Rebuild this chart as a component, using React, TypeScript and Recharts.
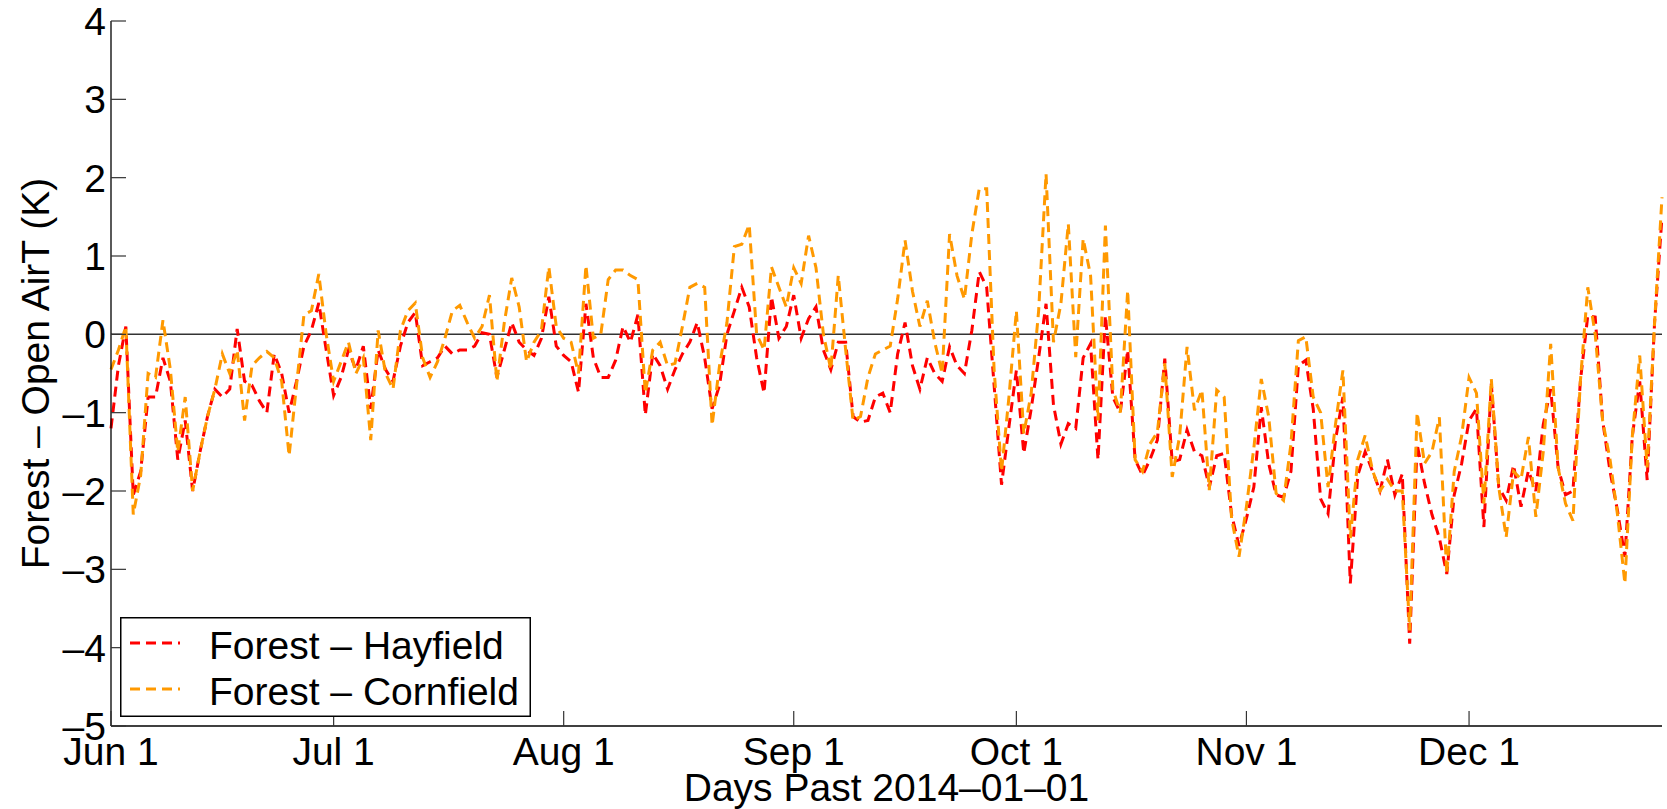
import { LineChart, Line, XAxis, YAxis, ReferenceLine, Legend } from "recharts";

const FONT = "'Liberation Sans', Arial, Helvetica, sans-serif";
const FS = 39;
const TICK_LEN = 15;

// day 151 = Jun 1 (days past 2014-01-01), one value per day
const startDay = 151;

const hayfield = [
  -1.2, -0.4, 0.1, -2.05, -1.75, -0.8, -0.8, -0.3, -0.6, -1.6,
  -1.1, -2.0, -1.5, -1.05, -0.7, -0.8, -0.7, 0.07, -0.6, -0.65,
  -0.85, -1.0, -0.25, -0.5, -1.0, -0.6, -0.15, 0.05, 0.4, -0.2,
  -0.78, -0.55, -0.2, -0.45, -0.15, -0.95, -0.2, -0.45, -0.6, -0.15,
  0.15, 0.28, -0.4, -0.35, -0.3, -0.15, -0.25, -0.2, -0.2, -0.15,
  0.02, 0.0, -0.55, -0.2, 0.15, -0.1, -0.2, -0.27, -0.05, 0.48,
  -0.15, -0.27, -0.35, -0.74, 0.39, -0.3, -0.55, -0.55, -0.33, 0.1,
  -0.1, 0.25, -1.03, -0.25, -0.4, -0.7, -0.45, -0.25, -0.1, 0.15,
  -0.3, -0.95, -0.65, 0.0, 0.3, 0.6, 0.35, -0.3, -0.75, 0.48,
  -0.05, 0.1, 0.5, -0.05, 0.2, 0.35, -0.2, -0.45, -0.1, -0.1,
  -1.05, -1.12, -1.1, -0.8, -0.75, -1.0, -0.25, 0.15, -0.4, -0.7,
  -0.3, -0.5, -0.6, -0.16, -0.4, -0.5, 0.05, 0.8, 0.6, -0.65,
  -1.92, -1.18, -0.46, -1.52, -0.95, -0.3, 0.39, -0.9, -1.4, -1.14,
  -1.2, -0.3, -0.12, -1.6, 0.24, -0.8, -1.0, -0.2, -1.6, -1.8,
  -1.6, -1.35, -0.31, -1.63, -1.6, -1.22, -1.5, -1.55, -1.95, -1.55,
  -1.52, -2.3, -2.7, -2.35, -1.95, -0.93, -1.65, -2.05, -2.08, -1.75,
  -0.4, -0.33, -0.95, -2.1, -2.29, -1.35, -0.8, -3.18, -1.8, -1.5,
  -1.75, -2.0, -1.6, -2.05, -1.78, -3.95, -1.4, -1.9, -2.3, -2.6,
  -3.06, -2.05, -1.65, -1.1, -0.95, -2.46, -0.63, -1.95, -2.12, -1.67,
  -2.2, -1.74, -2.0, -1.15, -0.7, -1.7, -2.05, -2.0, -0.6, 0.24,
  0.22, -1.1, -1.75, -2.25, -2.84, -1.3, -0.6, -1.86, 0.15, 1.5,
];

const cornfield = [
  -0.45, -0.2, 0.1, -2.3, -1.8, -0.5, -0.55, 0.18, -0.45, -1.5,
  -0.8, -2.0, -1.5, -1.05, -0.7, -0.25, -0.5, -0.2, -1.1, -0.4,
  -0.3, -0.22, -0.3, -0.6, -1.55, -0.65, 0.25, 0.3, 0.77, 0.0,
  -0.6, -0.35, -0.1, -0.5, -0.3, -1.35, 0.05, -0.5, -0.7, 0.05,
  0.3, 0.4, -0.3, -0.55, -0.35, -0.05, 0.3, 0.37, 0.15, -0.05,
  0.1, 0.5, -0.6, 0.15, 0.72, 0.35, -0.35, -0.1, 0.05, 0.86,
  0.1, -0.05, -0.1, -0.5, 0.88, -0.05, 0.0, 0.7, 0.82, 0.82,
  0.75, 0.7, -0.75, -0.2, -0.1, -0.4, -0.37, 0.1, 0.6, 0.65,
  0.6, -1.16, -0.4, 0.15, 1.12, 1.15, 1.4, 0.0, -0.2, 0.86,
  0.6, 0.35, 0.85, 0.65, 1.26, 0.85, 0.0, -0.45, 0.75, -0.2,
  -1.1, -1.05, -0.55, -0.25, -0.2, -0.15, 0.45, 1.2, 0.55, 0.1,
  0.43, -0.1, -0.5, 1.28, 0.75, 0.45, 1.28, 1.86, 1.86, -0.45,
  -1.75, -0.8, 0.3, -1.27, -0.75, 0.3, 2.05, -0.1, 0.39, 1.41,
  -0.29, 1.22, 0.75, -1.1, 1.39, -0.7, -1.0, 0.56, -1.6, -1.75,
  -1.4, -1.25, -0.37, -1.82, -1.3, -0.16, -0.97, -0.71, -1.99, -0.71,
  -0.8, -2.35, -2.84, -2.2, -1.45, -0.57, -1.05, -2.03, -2.12, -1.4,
  -0.08, -0.03, -0.8, -1.0, -1.95, -1.15, -0.46, -2.6, -1.6, -1.29,
  -1.74, -2.0, -1.85, -2.0, -2.0, -3.78, -1.0, -1.65, -1.5, -1.06,
  -3.06, -1.75, -1.3, -0.55, -0.75, -2.16, -0.57, -1.95, -2.59, -1.75,
  -1.85, -1.31, -2.33, -1.5, -0.12, -1.7, -2.16, -2.38, -0.6, 0.6,
  0.0, -1.1, -1.6, -2.3, -3.18, -1.3, -0.27, -1.7, 0.15, 1.75,
];

const seriesNames = ["Forest – Hayfield", "Forest – Cornfield"];
const xTicks = [151, 181, 212, 243, 273, 304, 334];
const xTickLabels = ["Jun 1", "Jul 1", "Aug 1", "Sep 1", "Oct 1", "Nov 1", "Dec 1"];
const yTicks = [-5, -4, -3, -2, -1, 0, 1, 2, 3, 4];

const data = hayfield.map((h, i) => ({
  day: startDay + i,
  hayfield: h,
  cornfield: cornfield[i],
}));

const fmtY = (v: number) => (v < 0 ? `\u2013${Math.abs(v)}` : `${v}`);

function BottomTick({ x, y, payload }: any) {
  const idx = xTicks.indexOf(payload.value);
  return (
    <g>
      <line x1={x} x2={x} y1={y} y2={y - TICK_LEN} stroke="#333" strokeWidth={1.2} />
      <text x={x} y={y + 39} textAnchor="middle" fontSize={FS} fontFamily={FONT} fill="#000">
        {xTickLabels[idx]}
      </text>
    </g>
  );
}

function TopTick({ x, y }: any) {
  return <line x1={x} x2={x} y1={y} y2={y + TICK_LEN} stroke="#333" strokeWidth={1.2} />;
}

function LeftTick({ x, y, payload }: any) {
  return (
    <g>
      <line x1={x} x2={x + TICK_LEN} y1={y} y2={y} stroke="#333" strokeWidth={1.2} />
      <text x={x - 5} y={y} dy="0.36em" textAnchor="end" fontSize={FS} fontFamily={FONT} fill="#000">
        {fmtY(payload.value)}
      </text>
    </g>
  );
}

function RightTick({ x, y }: any) {
  return <line x1={x} x2={x - TICK_LEN} y1={y} y2={y} stroke="#333" strokeWidth={1.2} />;
}

function YTitle({ viewBox }: any) {
  const cx = 35;
  const cy = viewBox.y + viewBox.height / 2;
  return (
    <text
      x={cx}
      y={cy}
      transform={`rotate(-90 ${cx} ${cy})`}
      textAnchor="middle"
      dominantBaseline="central"
      fontSize={FS}
      fontFamily={FONT}
      fill="#000"
    >
      Forest – Open AirT (K)
    </text>
  );
}

function XTitle({ viewBox }: any) {
  return (
    <text
      x={viewBox.x + viewBox.width / 2}
      y={viewBox.y + 75}
      textAnchor="middle"
      fontSize={FS}
      fontFamily={FONT}
      fill="#000"
    >
      Days Past 2014–01–01
    </text>
  );
}

function PanelTitle({ viewBox }: any) {
  return (
    <text x={viewBox.x + 46} y={viewBox.y + 69} fontSize={FS} fontFamily={FONT} fill="#000">
      (b) PTCLM
    </text>
  );
}

function LegendBox({ payload }: any) {
  const items = [...(payload || [])].sort(
    (a: any, b: any) => seriesNames.indexOf(a.value) - seriesNames.indexOf(b.value)
  );
  return (
    <svg width={411} height={100} style={{ display: "block" }}>
      <rect x={0.75} y={0.75} width={409.5} height={98.5} fill="#fff" stroke="#000" strokeWidth={1.5} />
      {items.map((p: any, i: number) => (
        <g key={p.value}>
          <line
            x1={10}
            x2={60}
            y1={26 + i * 46}
            y2={26 + i * 46}
            stroke={p.color}
            strokeWidth={3}
            strokeDasharray="10 6"
          />
          <text x={89} y={42 + i * 46} fontSize={FS} fontFamily={FONT} fill="#000">
            {p.value}
          </text>
        </g>
      ))}
    </svg>
  );
}

const axisStyle = { stroke: "#000", strokeWidth: 1.3 };

export default function App() {
  return (
    <div style={{ position: "absolute", left: 0, top: 0, width: 1667, height: 809, background: "#fff", fontFamily: FONT }}>
      <LineChart width={1667} height={809} data={data} margin={{ top: 21, right: 5, left: 0, bottom: 0 }}>
        <XAxis
          xAxisId="b"
          dataKey="day"
          type="number"
          domain={[151, 360]}
          ticks={xTicks}
          interval={0}
          height={83}
          tickSize={0}
          tickMargin={0}
          tick={<BottomTick />}
          axisLine={axisStyle}
          tickLine={false}
          label={<XTitle />}
        />
        <XAxis
          xAxisId="t"
          orientation="top"
          dataKey="day"
          type="number"
          domain={[151, 360]}
          ticks={xTicks}
          interval={0}
          height={0}
          tickSize={0}
          tickMargin={0}
          tick={<TopTick />}
          axisLine={axisStyle}
          tickLine={false}
          label={<PanelTitle />}
        />
        <YAxis
          yAxisId="l"
          type="number"
          domain={[-5, 4]}
          ticks={yTicks}
          interval={0}
          width={111}
          tickSize={0}
          tickMargin={0}
          tick={<LeftTick />}
          axisLine={axisStyle}
          tickLine={false}
          label={<YTitle />}
        />
        <YAxis
          yAxisId="r"
          orientation="right"
          type="number"
          domain={[-5, 4]}
          ticks={yTicks}
          interval={0}
          width={0}
          tickSize={0}
          tickMargin={0}
          tick={<RightTick />}
          axisLine={axisStyle}
          tickLine={false}
        />
        <ReferenceLine xAxisId="b" yAxisId="l" y={0} stroke="#333" strokeWidth={1.5} />
        <Line
          xAxisId="b"
          yAxisId="l"
          type="linear"
          dataKey="hayfield"
          name={seriesNames[0]}
          stroke="#ff0000"
          strokeWidth={3}
          strokeDasharray="10 6"
          dot={false}
          isAnimationActive={false}
        />
        <Line
          xAxisId="b"
          yAxisId="l"
          type="linear"
          dataKey="cornfield"
          name={seriesNames[1]}
          stroke="#ff9900"
          strokeWidth={3}
          strokeDasharray="10 6"
          dot={false}
          isAnimationActive={false}
        />
        <Legend
          layout="vertical"
          align="center"
          verticalAlign="middle"
          wrapperStyle={{ left: 120, top: 617, width: 411, height: 100 }}
          content={<LegendBox />}
        />
      </LineChart>
    </div>
  );
}
